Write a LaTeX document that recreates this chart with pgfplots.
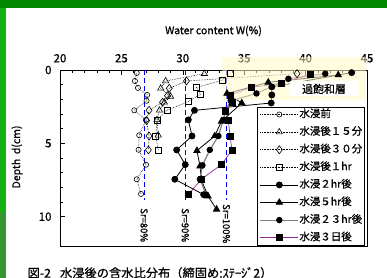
\documentclass[border=0pt]{standalone}
\usepackage{fontspec}
\setmainfont{Noto Sans CJK JP}[FakeBold=0.8]
\usepackage{pgfplots}
\pgfplotsset{compat=1.18}
\definecolor{topgreen}{RGB}{0,136,0}
\definecolor{leftgreen}{RGB}{20,176,20}
\definecolor{leftgreen2}{RGB}{50,150,50}
\definecolor{satyel}{RGB}{255,250,200}
\definecolor{srblue}{RGB}{0,0,255}
\definecolor{purp}{RGB}{150,40,150}
\definecolor{gline}{RGB}{128,128,128}
\begin{document}
\begin{tikzpicture}[x=1bp,y=1bp]
\useasboundingbox (0,0) rectangle (387,278);
\fill[white] (0,0) rectangle (387,278);
\fill[topgreen] (0,269.5) rectangle (387,278);
\fill[leftgreen] (0,66) rectangle (6,270);
\fill[leftgreen2] (0,0) rectangle (6,66);
\begin{axis}[
  at={(60bp,32bp)}, anchor=south west,
  width=307bp, height=176bp, scale only axis,
  xmin=20, xmax=45, ymin=0, ymax=12, y dir=reverse,
  clip=false,
  xtick={20,25,...,45}, minor x tick num=4,
  ytick={0,5,10}, minor y tick num=4,
  xtick pos=upper, xticklabel pos=upper, ytick pos=left,
  tick align=inside, major tick length=5bp, minor tick length=3bp,
  every tick/.style={black, line width=0.5bp},
  axis line style={line width=0.8bp},
  /pgf/number format/assume math mode=true,
  ticklabel style={font=\fontsize{11.5}{11.5}\selectfont},
  xticklabel style={yshift=4bp},
  yticklabel style={xshift=-5bp},
  xlabel={Water content W(\%)},
  xlabel style={at={(axis description cs:0.5,1.222)}, anchor=center, font=\fontsize{10.5}{10.5}\selectfont},
  ylabel={Depth\ \ d(cm)},
  ylabel style={at={(axis description cs:-0.14,0.506)}, anchor=center, font=\fontsize{10.5}{10.5}\selectfont},
  legend style={at={(0.9935,0.79)}, anchor=north east, draw=black, line width=0.6bp,
    font=\fontsize{10.5}{10.5}\selectfont, inner sep=2bp, row sep=7.1bp,
    nodes={inner sep=0.5bp, text height=7.5bp, text depth=2bp}, cells={anchor=west}},
  legend image code/.code={\draw[mark repeat=2,mark phase=2] plot coordinates {(0bp,0bp) (19bp,0bp) (38bp,0bp)};},
]
% Sr lines
\addplot[srblue, dash pattern=on 5bp off 3bp, line width=0.8bp, forget plot] coordinates {(26.85,0) (26.85,8.85)};
\addplot[srblue, dash pattern=on 5bp off 3bp, line width=0.8bp, forget plot] coordinates {(30.2,0) (30.2,8.85)};
\addplot[srblue, dash pattern=on 5bp off 3bp, line width=0.8bp, forget plot] coordinates {(33.55,0) (33.55,8.85)};
% before
\addplot[black, densely dotted, line width=0.6bp, mark=o, mark size=2.6bp, mark options={solid, fill=white, line width=0.6bp}] coordinates {
(26.25,0.2) (26.1,0.75) (26.35,1.22) (27.1,1.7) (27.05,2.1) (26.05,2.75) (27.0,3.4) (26.45,4.45) (26.4,5.44) (27.0,6.46) (26.25,7.45) (26.6,8.45)};
\addlegendentry{水浸前}
% 15 min
\addplot[black, densely dotted, line width=0.6bp, mark=triangle, mark size=3.6bp, mark options={solid, fill=white, line width=0.6bp}] coordinates {
(31.75,0.25) (28.6,0.75) (28.2,1.25) (29.0,1.8) (28.5,2.2) (28.1,2.75) (27.9,3.4) (28.0,4.45)};
\addlegendentry{水浸後１５分}
% 30 min
\addplot[black, densely dotted, line width=0.6bp, mark=diamond, mark size=4bp, mark options={solid, fill=white, line width=0.6bp}] coordinates {
(39.3,0.25) (30.3,0.75) (28.9,1.25) (28.75,1.75) (28.35,2.2) (27.25,2.75) (27.05,3.45) (27.25,4.5) (27.2,5.45)};
\addlegendentry{水浸後３０分}
% 1 hr
\addplot[black, densely dotted, line width=0.6bp, mark=square, mark size=3bp, mark options={solid, fill=white, line width=0.6bp}] coordinates {
(33.85,0.25) (33.2,0.7) (31.1,1.2) (31.45,1.65) (30.45,2.15) (28.7,2.75) (27.9,3.4) (27.8,4.5) (28.0,5.45)};
\addlegendentry{水浸後１hr}
% 2 hr
\addplot[black, line width=0.8bp, mark=*, mark size=3bp, mark options={fill=black}] coordinates {
(43.75,0.18) (37.25,1.15) (37.25,1.7) (37.2,2.25) (30.95,2.75) (30.45,3.4) (30.75,4.5) (29.5,5.45) (30.2,6.45) (29.35,7.45) (31.7,8.5)};
\addlegendentry{水浸２hr後}
% 5 hr
\addplot[black, line width=0.8bp, mark=triangle*, mark size=3.6bp, mark options={fill=black}] coordinates {
(42.66,0.34) (36.96,0.84) (33.6,1.6) (34.8,2.25) (33.15,3.5) (32.6,4.5) (31.15,5.5) (31.4,6.55) (31.5,7.45) (32.05,8.6) (32.75,9.5)};
\addlegendentry{水浸５hr後}
% 23 hr
\addplot[gline, line width=1.2bp, mark=*, mark size=2.6bp, mark options={fill=black, draw=black}] coordinates {
(41.6,0.25) (38.6,0.6) (36.0,1.6) (33.9,2.1) (33.5,2.75) (33.3,3.4) (32.9,4.5) (32.2,5.45) (31.6,6.5) (31.4,7.45) (31.9,8.5)};
\addlegendentry{水浸２３hr後}
% 3 days
\addplot[purp, line width=0.7bp, mark=square*, mark size=3bp, mark options={fill=black, draw=black}] coordinates {
(40.4,0.27) (38.05,0.9) (35.6,1.18) (33.9,1.7) (34.05,2.2) (33.5,2.8) (33.7,3.4) (33.85,4.5) (34.0,5.45) (33.15,6.45) (31.5,7.45) (30.45,8.5)};
\addlegendentry{水浸３日後}
% saturated overlay
\fill[satyel, opacity=0.55] (axis cs:33.19,-0.88) rectangle (axis cs:44.9,2.04);
\node[fill=white, inner sep=0pt, minimum width=68bp, minimum height=15bp, font=\fontsize{11}{11}\selectfont] at (axis cs:41.5,1.29) {過飽和層};
% Sr labels
\node[rotate=-90, fill=white, inner sep=1.2bp, font=\fontsize{9.5}{9.5}\selectfont] at (axis cs:26.85,10.58) {Sr=80\%};
\node[rotate=-90, fill=white, inner sep=1.2bp, font=\fontsize{9.5}{9.5}\selectfont] at (axis cs:30.2,10.58) {Sr=90\%};
\node[rotate=-90, fill=white, inner sep=1.2bp, font=\fontsize{9.5}{9.5}\selectfont] at (axis cs:33.55,10.48) {Sr=100\%};
\end{axis}
\node[anchor=west, font=\fontsize{12.3}{12.3}\selectfont, inner sep=0pt] at (27.5,5) {図-2\hspace{9bp}水浸後の含水比分布（締固め:ｽﾃｰｼﾞ2）};
\end{tikzpicture}
\end{document}
